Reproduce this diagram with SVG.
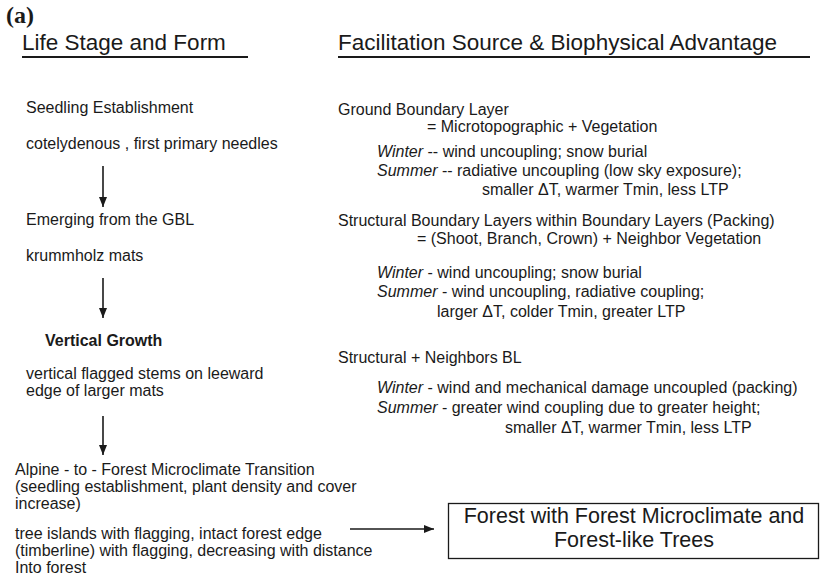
<svg xmlns="http://www.w3.org/2000/svg" width="820" height="576" viewBox="0 0 820 576">
<style>
text{font-family:"Liberation Sans",Arial,Helvetica,sans-serif;fill:#1a1a1a;font-size:16px}
.hd{font-size:22.5px}
.b{font-weight:bold}
.i{font-style:italic}
.big{font-size:21.5px}
.lab{font-family:"Liberation Serif","Times New Roman",serif;font-weight:bold;font-size:24px}
.rule{stroke:#1a1a1a;stroke-width:2}
.conn{stroke:#1a1a1a;stroke-width:1.6;fill:none}
</style>
<defs>
<marker id="ah" markerUnits="userSpaceOnUse" markerWidth="10" markerHeight="10" viewBox="0 0 10 10" refX="10" refY="5" orient="auto">
<path d="M0,1 L10,5 L0,9 Z" fill="#1a1a1a"/>
</marker>
</defs>
<rect width="820" height="576" fill="#fff"/>
<g id="headers">
<text class="lab" x="6" y="23">(a)</text>
<text class="hd" x="22" y="50">Life Stage and Form</text>
<line class="rule" x1="22" y1="57" x2="248" y2="57"/>
<text class="hd" x="338" y="50">Facilitation Source &amp; Biophysical Advantage</text>
<line class="rule" x1="338" y1="57" x2="810" y2="57"/>
</g>
<g id="stage-seedling">
<text x="26" y="113">Seedling Establishment</text>
<text x="26" y="149">cotelydenous , first primary needles</text>
</g>
<g id="stage-emerging">
<text x="26" y="225">Emerging from the GBL</text>
<text x="26" y="261">krummholz mats</text>
</g>
<g id="stage-vertical">
<text class="b" x="45" y="346">Vertical Growth</text>
<text x="26" y="379">vertical flagged stems on leeward</text>
<text x="26" y="396">edge of larger mats</text>
</g>
<g id="stage-transition">
<text x="15" y="475">Alpine - to - Forest Microclimate Transition</text>
<text x="15" y="492">(seedling establishment, plant density and cover</text>
<text x="15" y="509">increase)</text>
<text x="15" y="539">tree islands with flagging, intact forest edge</text>
<text x="15" y="556">(timberline) with flagging, decreasing with distance</text>
<text x="15" y="573">Into forest</text>
</g>
<g id="source-gbl">
<text x="338" y="115">Ground Boundary Layer</text>
<text x="427" y="132">= Microtopographic + Vegetation</text>
<text x="377" y="157"><tspan class="i">Winter</tspan> -- wind uncoupling; snow burial</text>
<text x="377" y="176"><tspan class="i">Summer</tspan> -- radiative uncoupling (low sky exposure);</text>
<text x="482" y="195">smaller ΔT, warmer Tmin, less LTP</text>
</g>
<g id="source-structural">
<text x="338" y="226">Structural Boundary Layers within Boundary Layers (Packing)</text>
<text x="417" y="244">=  (Shoot, Branch, Crown) +  Neighbor Vegetation</text>
<text x="377" y="278"><tspan class="i">Winter</tspan> - wind uncoupling; snow burial</text>
<text x="377" y="297"><tspan class="i">Summer</tspan> - wind uncoupling, radiative coupling;</text>
<text x="437" y="317">larger ΔT, colder Tmin, greater LTP</text>
</g>
<g id="source-neighbors">
<text x="338" y="363">Structural + Neighbors BL</text>
<text x="377" y="393"><tspan class="i">Winter</tspan> - wind and mechanical damage uncoupled (packing)</text>
<text x="377" y="413"><tspan class="i">Summer</tspan> - greater wind coupling due to greater height;</text>
<text x="505" y="433">smaller ΔT, warmer Tmin, less LTP</text>
</g>
<g id="forest">
<rect x="448.5" y="503.5" width="370" height="55" fill="none" stroke="#1a1a1a" stroke-width="1.3"/>
<text class="big" x="634" y="523" text-anchor="middle">Forest with Forest Microclimate and</text>
<text class="big" x="634" y="547" text-anchor="middle">Forest-like Trees</text>
</g>
<g id="connectors">
<line class="conn" x1="103" y1="166" x2="103" y2="207" marker-end="url(#ah)"/>
<line class="conn" x1="103" y1="278" x2="103" y2="318" marker-end="url(#ah)"/>
<line class="conn" x1="103" y1="416" x2="103" y2="455" marker-end="url(#ah)"/>
<line class="conn" x1="350" y1="529" x2="434" y2="529" marker-end="url(#ah)"/>
</g>
</svg>
